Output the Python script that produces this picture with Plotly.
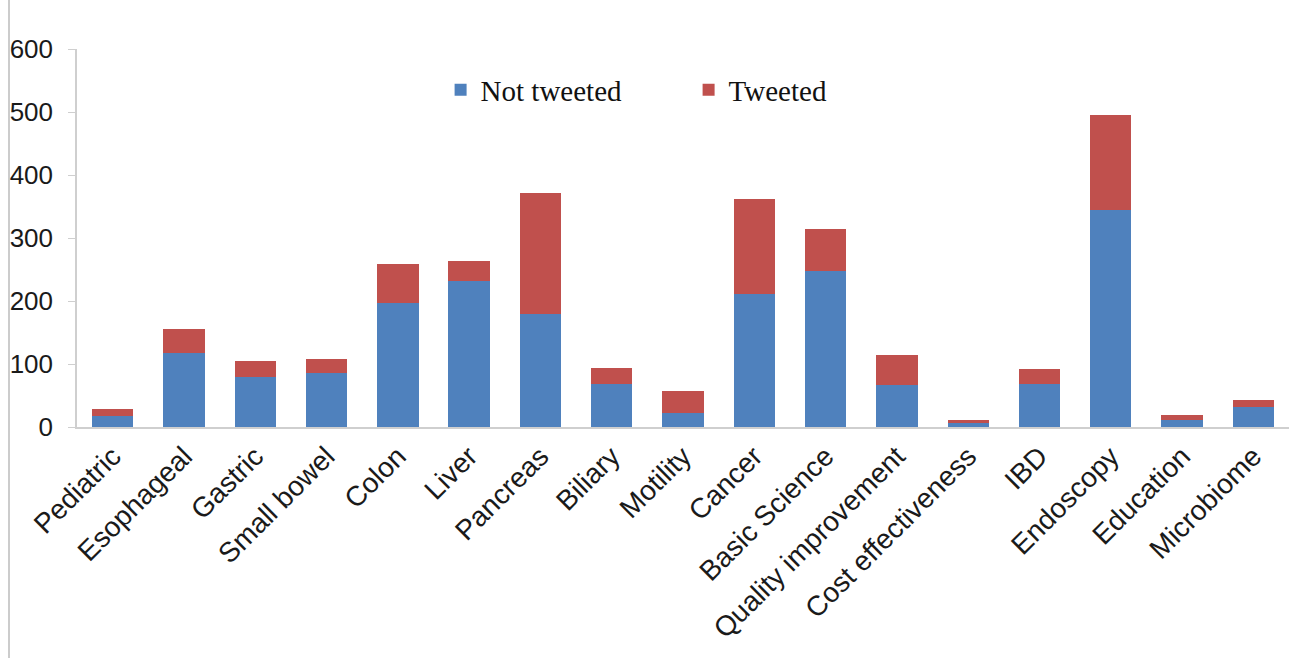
import plotly.graph_objects as go

categories = ["Pediatric", "Esophageal", "Gastric", "Small bowel", "Colon", "Liver",
              "Pancreas", "Biliary", "Motility", "Cancer", "Basic Science",
              "Quality improvement", "Cost effectiveness", "IBD", "Endoscopy",
              "Education", "Microbiome"]
not_tweeted = [17, 117, 80, 86, 197, 232, 179, 68, 23, 211, 248, 66, 7, 68, 344, 11, 32]
totals = [29, 155, 104, 108, 258, 264, 371, 94, 57, 362, 315, 115, 11, 92, 496, 19, 43]
tweeted = [t - n for t, n in zip(totals, not_tweeted)]
y_ticks = [0, 100, 200, 300, 400, 500, 600]

fig = go.Figure()
fig.add_trace(go.Bar(x=categories, y=not_tweeted, name="Not tweeted",
                     marker=dict(color="#4F81BD", line=dict(width=0))))
fig.add_trace(go.Bar(x=categories, y=tweeted, name="Tweeted",
                     marker=dict(color="#C0504D", line=dict(width=0))))

fig.update_layout(
    barmode="stack",
    bargap=0.42,
    width=1295, height=658,
    margin=dict(l=77, r=6, t=49, b=231),
    paper_bgcolor="white", plot_bgcolor="white",
    font=dict(family="Liberation Sans, Arial", color="#1a1a1a"),
    showlegend=True,
    legend=dict(orientation="h", x=0.30, y=0.892, xanchor="left", yanchor="middle",
                font=dict(family="Liberation Serif, Times New Roman", size=29, color="#111"),
                entrywidth=203, entrywidthmode="pixels", bgcolor="rgba(0,0,0,0)",
                traceorder="normal"),
    xaxis=dict(tickangle=-45, tickfont=dict(size=28), showline=True, linecolor="#cfcfcf",
               linewidth=1.5, ticks="", showgrid=False),
    yaxis=dict(range=[0, 600], tickvals=y_ticks, tickfont=dict(size=26), showline=True,
               linecolor="#cfcfcf", linewidth=1.5, ticks="outside", ticklen=7,
               tickcolor="#cfcfcf", showgrid=False, zeroline=False, ticklabelstandoff=10),
    shapes=[dict(type="line", xref="paper", yref="paper", x0=-0.0561, x1=-0.0561,
                 y0=-0.62, y1=1.14, line=dict(color="#999999", width=1))],
)

fig.write_html("out.html")
